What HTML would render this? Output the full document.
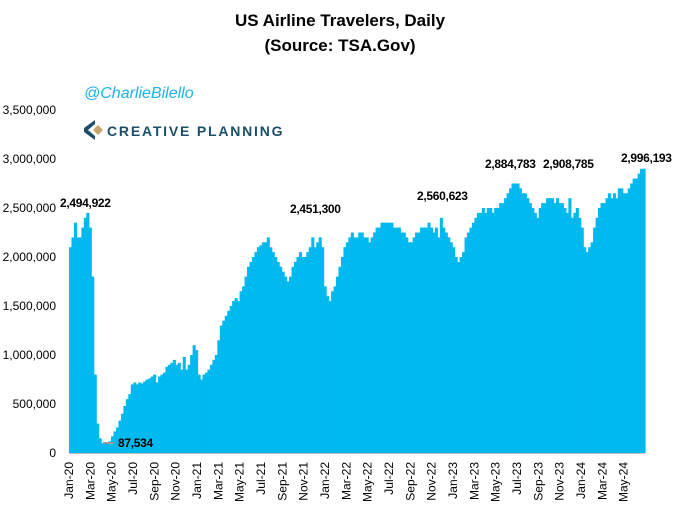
<!DOCTYPE html>
<html><head><meta charset="utf-8"><style>
body{margin:0;background:#fff;width:680px;height:504px;overflow:hidden;font-family:"Liberation Sans",sans-serif}
</style></head><body>
<svg width="680" height="504" xmlns="http://www.w3.org/2000/svg">
<text x="340" y="26" text-anchor="middle" font-size="17" font-weight="bold" font-family="Liberation Sans, sans-serif">US Airline Travelers, Daily</text>
<text x="340" y="51" text-anchor="middle" font-size="17" font-weight="bold" font-family="Liberation Sans, sans-serif">(Source: TSA.Gov)</text>
<text x="84" y="98" font-size="16" font-style="italic" fill="#1ab3e8">@CharlieBilello</text>
<g>
<path d="M95,120 L84,128 L84,132 L95,140 L95,136 L88,130 L95,124 Z" fill="#1d4f6b"/>
<path d="M93,130 L98,125 L103,130 L98,135 Z" fill="#c8a46e"/>
<text x="107" y="136" font-size="14" font-weight="bold" fill="#1d4f6b" letter-spacing="1.8">CREATIVE PLANNING</text>
</g>
<g id="yaxis"></g>
<g id="bars"></g>
<line x1="69" y1="453.5" x2="645" y2="453.5" stroke="#bfbfbf"/>
<g id="xaxis"></g>
<g font-size="12" font-weight="bold" letter-spacing="-0.3">
<text x="60" y="207">2,494,922</text>
<line x1="103" y1="443" x2="114" y2="443" stroke="#999" stroke-width="2"/>
<text x="118" y="447">87,534</text>
<text x="290" y="213">2,451,300</text>
<text x="417" y="200">2,560,623</text>
<text x="485" y="168">2,884,783</text>
<text x="543" y="168">2,908,785</text>
<text x="621" y="162">2,996,193</text>
</g>
</svg>
<script>
const yTicks=[0,500000,1000000,1500000,2000000,2500000,3000000,3500000];
const monthLabels=["Jan-20","Mar-20","May-20","Jul-20","Sep-20","Nov-20","Jan-21","Mar-21","May-21","Jul-21","Sep-21","Nov-21","Jan-22","Mar-22","May-22","Jul-22","Sep-22","Nov-22","Jan-23","Mar-23","May-23","Jul-23","Sep-23","Nov-23","Jan-24","Mar-24","May-24"];
const weeklyTravelersM=[
2.1,2.2,2.35,2.2, 2.2,2.3,2.4,2.45, 2.3,1.8,0.8,0.3,0.15, 0.1,0.095,0.1,0.12, 0.17,0.22,0.26,0.33, 0.4,0.48,0.55,0.6, 0.7,0.72,0.7,0.72,0.71, 0.73,0.75,0.76,0.78, 0.8,0.72,0.78,0.8, 0.82,0.88,0.9,0.92,0.95, 0.9,0.92,0.85,0.98, 0.85,0.9,1.0,1.1,1.05,
0.8,0.75,0.8,0.82, 0.85,0.9,0.95,1.0, 1.15,1.3,1.35,1.4,1.45, 1.5,1.55,1.58,1.55, 1.65,1.7,1.8,1.9, 1.95,2.0,2.05,2.1, 2.12,2.15,2.15,2.2,2.1, 2.05,2.0,1.95,1.9, 1.85,1.8,1.75,1.8, 1.9,1.95,2.0,2.05,2.0, 2.0,2.05,2.1,2.2, 2.1,2.15,2.2,2.1,
1.7,1.6,1.55,1.65,1.7, 1.8,1.9,2.0,2.1, 2.15,2.2,2.25,2.2, 2.2,2.25,2.25,2.2,2.2, 2.15,2.2,2.25,2.3, 2.3,2.35,2.35,2.35, 2.35,2.35,2.3,2.3,2.3, 2.25,2.25,2.2,2.15, 2.15,2.2,2.25,2.25, 2.3,2.3,2.3,2.35,2.3, 2.25,2.3,2.2,2.4, 2.3,2.25,2.2,2.15,2.1,
2.0,1.95,2.0,2.05, 2.2,2.25,2.3,2.35, 2.4,2.45,2.45,2.5, 2.45,2.5,2.5,2.45,2.5, 2.5,2.55,2.55,2.6, 2.65,2.7,2.75,2.75, 2.75,2.7,2.65,2.65,2.6, 2.55,2.5,2.45,2.4, 2.5,2.55,2.55,2.6, 2.6,2.6,2.55,2.6,2.55, 2.55,2.5,2.45,2.6, 2.4,2.45,2.5,2.4,2.3,
2.1,2.05,2.1,2.15, 2.3,2.4,2.5,2.55, 2.55,2.6,2.65,2.6,2.65, 2.6,2.7,2.7,2.65, 2.65,2.7,2.75,2.8, 2.8,2.85,2.9,2.9];
const NS="http://www.w3.org/2000/svg";
const x0=69,x1=645,y0=453,pxPerM=98;
function yScale(v){return y0-v/1e6*pxPerM;}
function xMonth(i){return x0+i*(x1-x0)/54;}
const ya=document.getElementById('yaxis');
yTicks.forEach(v=>{const t=document.createElementNS(NS,'text');


t.setAttribute('x',56);t.setAttribute('y',yScale(v)+4);t.setAttribute('text-anchor','end');t.setAttribute('font-size','12');
t.textContent=v.toLocaleString('en-US');ya.appendChild(t);});
const bg=document.getElementById('bars');
const n=weeklyTravelersM.length,w=(x1-x0)/n;
weeklyTravelersM.forEach((v,i)=>{const r=document.createElementNS(NS,'rect');


const y=yScale(v*1e6);
r.setAttribute('x',x0+i*w);r.setAttribute('width',w+0.6);r.setAttribute('y',y);r.setAttribute('height',y0-y);r.setAttribute('fill','#00b9ee');bg.appendChild(r);});
const xa=document.getElementById('xaxis');
monthLabels.forEach((m,i)=>{const t=document.createElementNS(NS,'text');


const x=xMonth(i*2)+4;
t.setAttribute('transform','translate('+x+',462) rotate(-90)');t.setAttribute('text-anchor','end');t.setAttribute('font-size','12');
t.textContent=m;xa.appendChild(t);});
</script>
</body></html>
